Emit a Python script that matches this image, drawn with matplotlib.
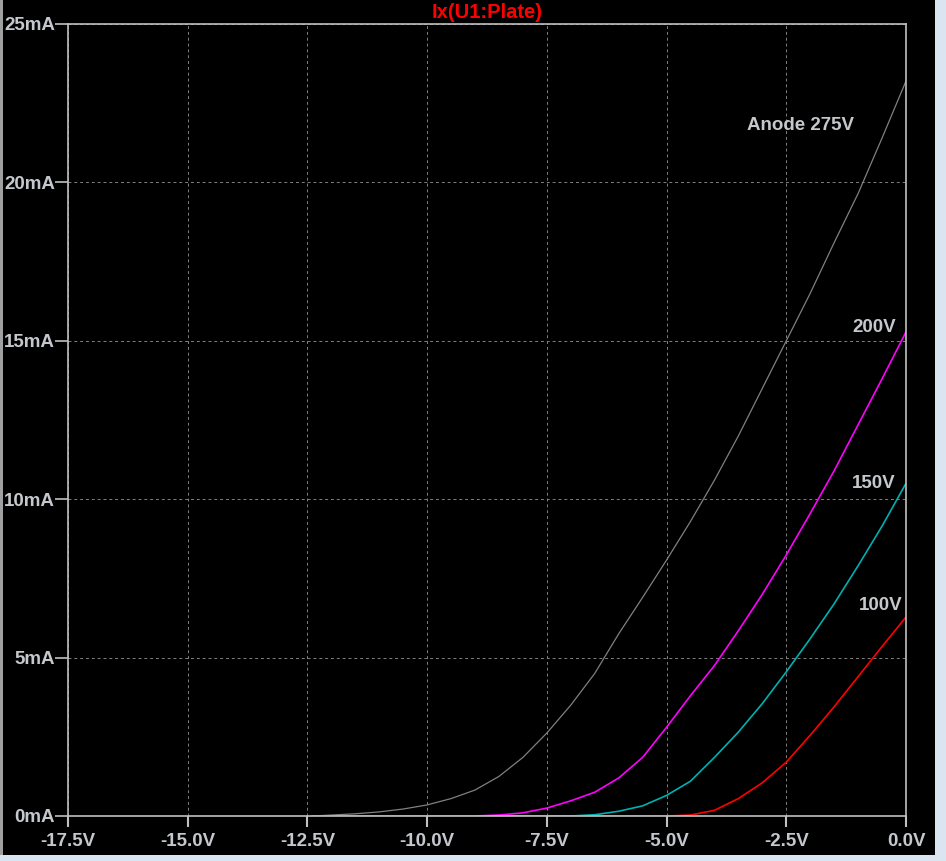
import numpy as np
import matplotlib
matplotlib.use('Agg')
import matplotlib.pyplot as plt
from matplotlib.patches import Rectangle

# grid voltage (V) and plate current (mA) for each anode voltage
v_275 = [-12.4, -12.0, -11.5, -11.0, -10.5, -10.0, -9.5, -9.0, -8.5, -8.0, -7.5, -7.0,
         -6.5, -6.0, -5.5, -5.0, -4.5, -4.0, -3.5, -3.0, -2.5, -2.0, -1.5, -1.0, -0.5, 0.0]
i_275 = [0.0, 0.03, 0.07, 0.13, 0.22, 0.35, 0.55, 0.82, 1.25, 1.85, 2.62, 3.5,
         4.5, 5.75, 6.9, 8.08, 9.3, 10.6, 12.0, 13.5, 15.0, 16.5, 18.1, 19.65, 21.4, 23.2]

v_200 = [-12.4, -9.0, -8.5, -8.0, -7.5, -7.0, -6.5, -6.0, -5.5, -5.0, -4.5, -4.0,
         -3.5, -3.0, -2.5, -2.0, -1.5, -1.0, -0.5, 0.0]
i_200 = [0.0, 0.0, 0.03, 0.1, 0.25, 0.48, 0.75, 1.2, 1.85, 2.8, 3.8, 4.75,
         5.85, 7.0, 8.24, 9.55, 10.9, 12.35, 13.8, 15.28]

v_150 = [-8.95, -7.0, -6.5, -6.0, -5.5, -5.0, -4.5, -4.0, -3.5, -3.0, -2.5, -2.0,
         -1.5, -1.0, -0.5, 0.0]
i_150 = [0.0, 0.0, 0.04, 0.15, 0.32, 0.65, 1.1, 1.85, 2.65, 3.55, 4.55, 5.6,
         6.7, 7.9, 9.15, 10.5]

v_100 = [-6.9, -5.0, -4.5, -4.0, -3.5, -3.0, -2.5, -2.0, -1.5, -1.0, -0.5, 0.0]
i_100 = [0.0, 0.0, 0.03, 0.18, 0.55, 1.05, 1.7, 2.55, 3.45, 4.4, 5.35, 6.28]

x_ticks = [-17.5, -15.0, -12.5, -10.0, -7.5, -5.0, -2.5, 0.0]
y_ticks = [0, 5, 10, 15, 20, 25]

fg = '#c4c8cc'
font = 'Liberation Sans'

fig = plt.figure(figsize=(9.46, 8.61), dpi=100, facecolor='black')
W, H = 946, 861
ax = fig.add_axes([68 / W, (H - 816) / H, (906 - 68) / W, (816 - 24) / H])
ax.set_facecolor('black')

# window edges
fig.patches.append(Rectangle((935 / W, 0), 11 / W, 1, transform=fig.transFigure,
                             facecolor='#dbe5f1', edgecolor='none'))
fig.patches.append(Rectangle((0, 0), 1, 6 / H, transform=fig.transFigure,
                             facecolor='#dbe5f1', edgecolor='none'))
fig.patches.append(Rectangle((0, 6 / H), 2.5 / W, 1, transform=fig.transFigure,
                             facecolor='#a0a0a0', edgecolor='none'))

ax.plot(v_275, i_275, color='#808080', lw=0.9)
ax.plot(v_200, i_200, color='#ff00ff', lw=1.2)
ax.plot(v_150, i_150, color='#00b0b0', lw=1.2)
ax.plot(v_100, i_100, color='#ff0000', lw=1.2)

ax.set_xlim(-17.5, 0)
ax.set_ylim(0, 25)
ax.set_xticks(x_ticks)
ax.set_xticklabels(['%.1fV' % v for v in x_ticks])
ax.set_yticks(y_ticks)
ax.set_yticklabels(['%dmA' % v for v in y_ticks])
ax.grid(True, color='#808080', linestyle=(0, (3, 3)), lw=0.7)
for s in ax.spines.values():
    s.set_color('#c0c0c0')
    s.set_linewidth(1.2)
ax.tick_params(axis='x', colors='#c0c0c0', length=8, width=1.5, pad=4, labelcolor=fg)
ax.tick_params(axis='y', colors='#c0c0c0', length=9.4, width=1.2, pad=0, labelcolor=fg)
for lab in ax.get_xticklabels() + ax.get_yticklabels():
    lab.set_fontfamily(font)
    lab.set_fontsize(13.5)
    lab.set_fontweight('bold')

ax.text(-2.21, 21.8, 'Anode 275V', color=fg, fontsize=13.5, fontweight='bold',
        family=font, ha='center', va='center')
ax.text(-0.21, 15.43, '200V', color=fg, fontsize=13.5, fontweight='bold',
        family=font, ha='right', va='center')
ax.text(-0.21, 10.5, '150V', color=fg, fontsize=13.5, fontweight='bold',
        family=font, ha='right', va='center')
ax.text(-0.08, 6.66, '100V', color=fg, fontsize=13.5, fontweight='bold',
        family=font, ha='right', va='center')

fig.text(487 / W, 1 - 13 / H, 'Ix(U1:Plate)', color='#ff0000', fontsize=14.5,
         fontweight='bold', family=font, ha='center', va='center')

fig.savefig('out.png', dpi=100, facecolor='black')
